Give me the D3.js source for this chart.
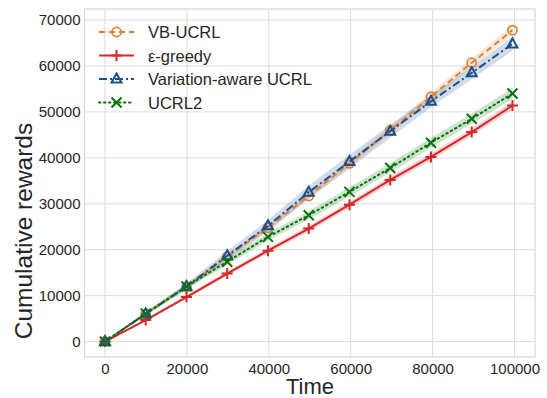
<!DOCTYPE html>
<html>
<head>
<meta charset="utf-8">
<script src="https://cdn.jsdelivr.net/npm/d3@7"></script>
<style>
  body { margin: 0; background: #fff; }
  text { font-family: "Liberation Sans", Arial, sans-serif; fill: #262626; }
</style>
</head>
<body>
<svg id="chart" width="547" height="398"></svg>
<script>
// time steps where markers sit
const times = [0, 9950, 19900, 29850, 39800, 49750, 59700, 69650, 79600, 89550, 99500];

const vbUcrl = [0, 6000, 11900, 18500, 24800, 31700, 38800, 46000, 53300, 60700, 67800];
const epsGreedy = [0, 4700, 9700, 14800, 19800, 24600, 29800, 35200, 40200, 45600, 51400];
const variationUcrl = [0, 6050, 12000, 18700, 25200, 32500, 39200, 45800, 52300, 58500, 64800];
const ucrl2 = [0, 6100, 12000, 17400, 22800, 27500, 32600, 37800, 43300, 48500, 54000];

// half width of the shaded band
const vbUcrlSpread = [0, 250, 400, 500, 650, 700, 800, 800, 900, 900, 1000];
const epsGreedySpread = [0, 250, 400, 500, 600, 700, 700, 800, 800, 800, 900];
const variationUcrlSpread = [0, 400, 700, 1000, 1200, 1400, 1500, 1400, 1300, 1400, 1500];
const ucrl2Spread = [0, 300, 500, 700, 800, 900, 1000, 1000, 1100, 1100, 1200];

const xTicks = [0, 20000, 40000, 60000, 80000, 100000];
const yTicks = [0, 10000, 20000, 30000, 40000, 50000, 60000, 70000];

const series = [
  {name: 'VB-UCRL', values: vbUcrl, spread: vbUcrlSpread, color: '#dd8033', dash: '6,4', marker: 'circle'},
  {name: 'ε-greedy', values: epsGreedy, spread: epsGreedySpread, color: '#d62728', dash: null, marker: 'plus'},
  {name: 'Variation-aware UCRL', values: variationUcrl, spread: variationUcrlSpread, color: '#1c4f8c', dash: '8,3,2,3', marker: 'triangle'},
  {name: 'UCRL2', values: ucrl2, spread: ucrl2Spread, color: '#097309', dash: '1.5,3.5', marker: 'cross'}
];

const svg = d3.select('#chart');
const plot = {left: 84.5, right: 535, top: 9, bottom: 357};

const x = d3.scaleLinear().domain([-5000, 105000]).range([plot.left, plot.right]);
const y = d3.scaleLinear().domain([-3350, 72400]).range([plot.bottom, plot.top]);

// grid
svg.append('g').selectAll('line').data(xTicks).join('line')
  .attr('x1', d => x(d)).attr('x2', d => x(d))
  .attr('y1', plot.top).attr('y2', plot.bottom)
  .attr('stroke', '#dcdcdc').attr('stroke-width', 1);
svg.append('g').selectAll('line').data(yTicks).join('line')
  .attr('x1', plot.left).attr('x2', plot.right)
  .attr('y1', d => y(d)).attr('y2', d => y(d))
  .attr('stroke', '#dcdcdc').attr('stroke-width', 1);

svg.append('rect')
  .attr('x', plot.left).attr('y', plot.top)
  .attr('width', plot.right - plot.left).attr('height', plot.bottom - plot.top)
  .attr('fill', 'none').attr('stroke', '#d6d6d6').attr('stroke-width', 1.2);

// axes (labels only, no tick marks)
const axisX = d3.axisBottom(x).tickValues(xTicks).tickSize(0).tickPadding(6).tickFormat(d3.format('d'));
const axisY = d3.axisLeft(y).tickValues(yTicks).tickSize(0).tickPadding(4).tickFormat(d3.format('d'));

svg.append('g')
  .attr('transform', `translate(0,${plot.bottom})`)
  .call(axisX)
  .call(g => g.select('.domain').remove())
  .selectAll('text').style('font-size', '15px').attr('fill', '#262626')
  .style('font-family', '"Liberation Sans", Arial, sans-serif');

svg.append('g')
  .attr('transform', `translate(${plot.left},0)`)
  .call(axisY)
  .call(g => g.select('.domain').remove())
  .selectAll('text').style('font-size', '15px').attr('fill', '#262626')
  .style('font-family', '"Liberation Sans", Arial, sans-serif');

svg.append('text')
  .attr('x', 310).attr('y', 394)
  .attr('text-anchor', 'middle')
  .style('font-size', '22px')
  .text('Time');

svg.append('text')
  .attr('transform', 'translate(32,231) rotate(-90)')
  .attr('text-anchor', 'middle')
  .style('font-size', '24.5px')
  .text('Cumulative rewards');

// bands
const area = d3.area()
  .x((d, i) => x(times[i]))
  .y0(d => y(d[0] - d[1]))
  .y1(d => y(d[0] + d[1]));

series.forEach(s => {
  svg.append('path')
    .datum(s.values.map((v, i) => [v, s.spread[i]]))
    .attr('fill', s.color)
    .attr('fill-opacity', 0.2)
    .attr('d', area);
});

const line = d3.line()
  .x((d, i) => x(times[i]))
  .y(d => y(d));

function drawMarker(g, type, color) {
  if (type === 'circle') {
    g.append('circle').attr('r', 4.6).attr('fill', 'none')
      .attr('stroke', color).attr('stroke-width', 1.7);
  } else if (type === 'plus') {
    g.append('path').attr('d', 'M-5.5,0H5.5M0,-5.5V5.5')
      .attr('stroke', color).attr('stroke-width', 2);
  } else if (type === 'triangle') {
    g.append('path').attr('d', 'M0,-5.5L5,3.5L-5,3.5Z').attr('fill', 'none')
      .attr('stroke', color).attr('stroke-width', 2).attr('stroke-linejoin', 'miter');
  } else if (type === 'cross') {
    g.append('path').attr('d', 'M-5,-5L5,5M-5,5L5,-5')
      .attr('stroke', color).attr('stroke-width', 2);
  }
}

series.forEach(s => {
  svg.append('path')
    .datum(s.values)
    .attr('fill', 'none')
    .attr('stroke', s.color)
    .attr('stroke-width', 2)
    .attr('stroke-dasharray', s.dash)
    .attr('stroke-linecap', s.marker === 'cross' ? 'round' : 'butt')
    .attr('d', line);

  s.values.forEach((v, i) => {
    const g = svg.append('g').attr('transform', `translate(${x(times[i])},${y(v)})`);
    drawMarker(g, s.marker, s.color);
  });
});

// legend
const legend = svg.append('g');
series.forEach((s, i) => {
  const ly = 32 + i * 23.5;
  legend.append('line')
    .attr('x1', 99).attr('x2', 134)
    .attr('y1', ly).attr('y2', ly)
    .attr('stroke', s.color).attr('stroke-width', 2)
    .attr('stroke-dasharray', s.dash)
    .attr('stroke-linecap', s.marker === 'cross' ? 'round' : 'butt');
  const g = legend.append('g').attr('transform', `translate(116.5,${ly})`);
  drawMarker(g, s.marker, s.color);
  legend.append('text')
    .attr('x', 148).attr('y', ly + 6)
    .style('font-size', '16.5px')
    .text(s.name);
});
</script>
</body>
</html>
